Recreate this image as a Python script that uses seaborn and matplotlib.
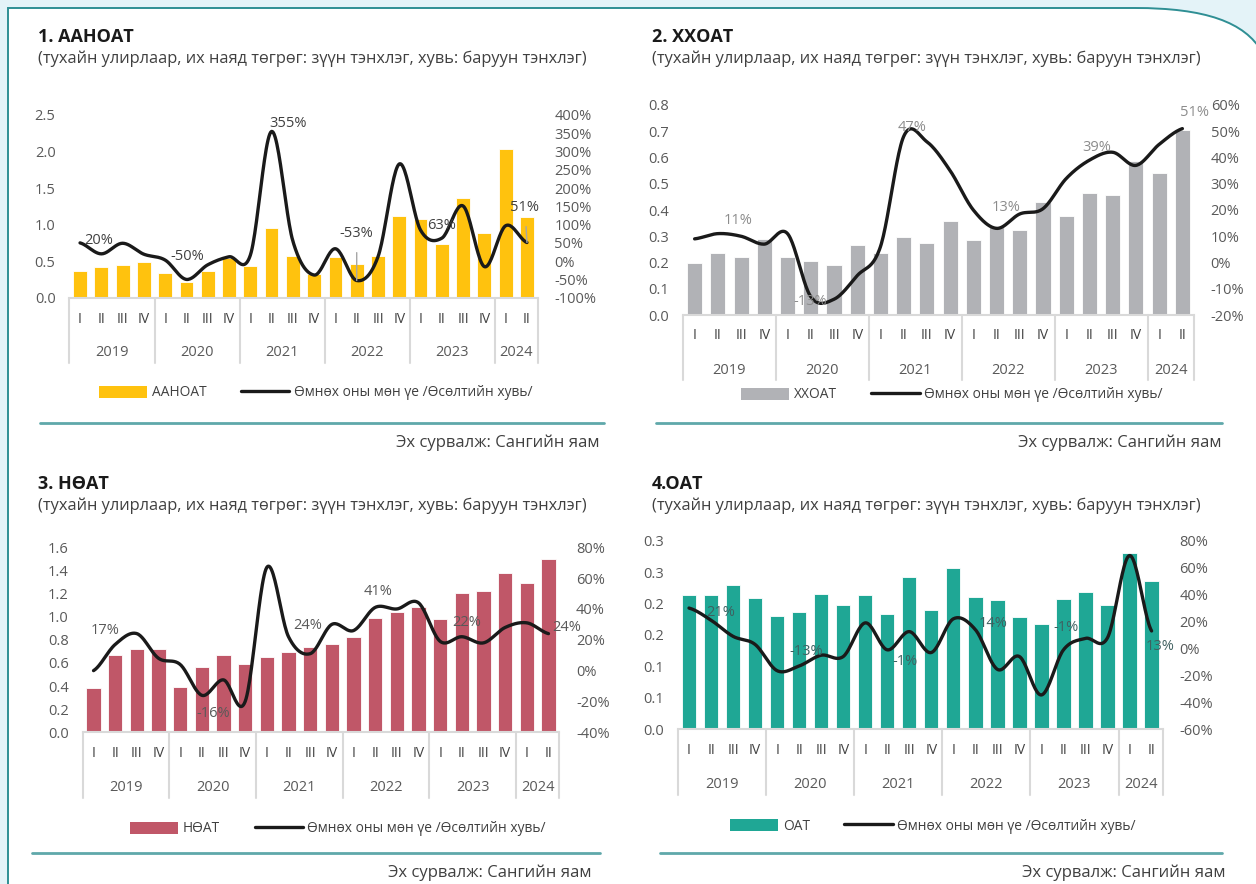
import numpy as np
import pandas as pd
import matplotlib
matplotlib.use("Agg")
import matplotlib.pyplot as plt
import matplotlib.transforms as mtransforms
from matplotlib.patches import Patch, PathPatch
from matplotlib.lines import Line2D
from matplotlib.path import Path
import seaborn as sns

# ---------------- data ----------------
years = ["2019", "2020", "2021", "2022", "2023", "2024"]
year_quarters = [4, 4, 4, 4, 4, 2]
quarters = ["I", "II", "III", "IV"] * 5 + ["I", "II"]
periods = [f"{y}-{q}" for y, n in zip(years, year_quarters) for q in ["I", "II", "III", "IV"][:n]]

aanoat = [0.36, 0.42, 0.45, 0.49, 0.34, 0.22, 0.37, 0.54, 0.44, 0.96, 0.57, 0.32,
          0.56, 0.46, 0.57, 1.12, 1.08, 0.73, 1.36, 0.89, 2.03, 1.10]
aanoat_g = [50, 20, 49, 19, 3, -50, -10, 12, 16, 355, 55, -38,
            34, -53, 12, 266, 85, 63, 151, -15, 97, 51]

xxoat = [0.200, 0.235, 0.222, 0.288, 0.220, 0.206, 0.190, 0.265, 0.236, 0.298, 0.274, 0.358,
         0.286, 0.336, 0.324, 0.430, 0.376, 0.466, 0.457, 0.587, 0.542, 0.703]
xxoat_g = [9, 11, 10, 7, 11, -13, -14, -5, 6, 48, 46, 35,
           20, 13, 18.5, 20.5, 32, 39, 42, 37, 45, 51]

noat = [0.383, 0.672, 0.720, 0.724, 0.395, 0.565, 0.669, 0.591, 0.654, 0.698, 0.738, 0.761,
        0.827, 0.986, 1.038, 1.084, 0.983, 1.205, 1.222, 1.378, 1.291, 1.496]
noat_g = [0, 17, 24, 8, 4, -16, -6, -20, 67, 22, 11, 30,
          26, 41, 40, 44, 19, 22, 18, 28, 31, 24]

oat = [0.214, 0.214, 0.229, 0.209, 0.180, 0.187, 0.216, 0.197, 0.213, 0.184, 0.242, 0.190,
       0.256, 0.210, 0.205, 0.178, 0.167, 0.208, 0.219, 0.198, 0.281, 0.236]
oat_g = [30, 21, 9, 3, -16.5, -13, -5, -6, 19, -1, 12.5, -3,
         22, 14, -15.5, -6, -34.5, -1, 7.5, 8, 69, 13]

# data labels shown on the line: (index, text)
aanoat_labels = [(1, "20%"), (5, "-50%"), (9, "355%"), (13, "-53%"), (17, "63%"), (21, "51%")]
xxoat_labels = [(2, "11%"), (5, "-13%"), (9, "47%"), (13, "13%"), (17, "39%"), (21, "51%")]
noat_labels = [(1, "17%"), (5, "-16%"), (10, "24%"), (13, "41%"), (17, "22%"), (21, "24%")]
oat_labels = [(1, "21%"), (5, "-13%"), (9, "-1%"), (13, "14%"), (17, "-1%"), (21, "13%")]

# axis ticks
aanoat_lticks = [0, 0.5, 1.0, 1.5, 2.0, 2.5]
aanoat_lticklabels = ["0.0", "0.5", "1.0", "1.5", "2.0", "2.5"]
aanoat_rticks = [-100, -50, 0, 50, 100, 150, 200, 250, 300, 350, 400]
xxoat_lticks = [0, 0.1, 0.2, 0.3, 0.4, 0.5, 0.6, 0.7, 0.8]
xxoat_lticklabels = ["0.0", "0.1", "0.2", "0.3", "0.4", "0.5", "0.6", "0.7", "0.8"]
xxoat_rticks = [-20, -10, 0, 10, 20, 30, 40, 50, 60]
noat_lticks = [0, 0.2, 0.4, 0.6, 0.8, 1.0, 1.2, 1.4, 1.6]
noat_lticklabels = ["0.0", "0.2", "0.4", "0.6", "0.8", "1.0", "1.2", "1.4", "1.6"]
noat_rticks = [-40, -20, 0, 20, 40, 60, 80]
oat_lticks = [0, 0.05, 0.10, 0.15, 0.20, 0.25, 0.30]
oat_lticklabels = ["0.0", "0.1", "0.1", "0.2", "0.2", "0.3", "0.3"]
oat_rticks = [-60, -40, -20, 0, 20, 40, 60, 80]

titles = ["1. ААНОАТ", "2. ХХОАТ", "3. НӨАТ", "4.ОАТ"]
subtitle = "(тухайн улирлаар, их наяд төгрөг: зүүн тэнхлэг, хувь: баруун тэнхлэг)"
bar_names = ["ААНОАТ", "ХХОАТ", "НӨАТ", "ОАТ"]
line_name = "Өмнөх оны мөн үе /Өсөлтийн хувь/"
source = "Эх сурвалж: Сангийн яам"

# ---------------- style ----------------
sns.set_style("white")
plt.rcParams["font.family"] = ["Open Sans", "Noto Sans", "DejaVu Sans"]

W, H = 1256, 884
fig = plt.figure(figsize=(W / 100, H / 100), dpi=100)
fig.patch.set_facecolor("#E4F3F8")

# page card (pixel coordinates)
bg = fig.add_axes([0, 0, 1, 1], zorder=-10)
bg.set_xlim(0, W)
bg.set_ylim(H, 0)
bg.axis("off")
card_verts = [(8, H + 5), (8, 8), (1135, 8), (1205, 8), (1245, 22), (1262, 52), (1262, H + 5), (8, H + 5)]
card_codes = [Path.MOVETO, Path.LINETO, Path.LINETO, Path.CURVE4, Path.CURVE4, Path.CURVE4, Path.LINETO, Path.CLOSEPOLY]
bg.add_patch(PathPatch(Path(card_verts, card_codes), facecolor="white", edgecolor="none"))
border_verts = [(8, H + 5), (8, 8), (1135, 8), (1205, 8), (1245, 22), (1262, 52)]
border_codes = [Path.MOVETO, Path.LINETO, Path.LINETO, Path.CURVE4, Path.CURVE4, Path.CURVE4]
bg.add_patch(PathPatch(Path(border_verts, border_codes), facecolor="none", edgecolor="#2F8F94", lw=1.4))


def smooth_curve(y, n=24):
    """Catmull-Rom smoothing of the line (like a spreadsheet's smoothed line)."""
    y = np.asarray(y, float)
    m = len(y)
    xs, ys = [], []
    for i in range(m - 1):
        p0 = y[i - 1] if i > 0 else y[i]
        p1, p2 = y[i], y[i + 1]
        p3 = y[i + 2] if i + 2 < m else y[i + 1]
        t = np.linspace(0, 1, n, endpoint=False)
        yy = 0.5 * ((2 * p1) + (-p0 + p2) * t + (2 * p0 - 5 * p1 + 4 * p2 - p3) * t ** 2
                    + (-p0 + 3 * p1 - 3 * p2 + p3) * t ** 3)
        xs.extend(i + t)
        ys.extend(yy)
    xs.append(m - 1)
    ys.append(y[-1])
    return np.array(xs), np.array(ys)


TICK = "#595959"


def panel(box, values, growth, labels, lticks, lticklabels, rticks, color, name,
          title_xy, legend_xy, rule, source_xy, label_offsets, label_color,
          cat_rows, leaders=()):
    x0, x1, yt, yb = box
    ax = fig.add_axes([x0 / W, 1 - yb / H, (x1 - x0) / W, (yb - yt) / H])
    ax.patch.set_alpha(0)
    df = pd.DataFrame({"period": periods, "value": values})
    sns.barplot(data=df, x="period", y="value", order=periods, color=color,
                width=0.65, saturation=1, ax=ax, edgecolor="white", linewidth=0.6)
    ax.set_ylim(lticks[0], lticks[-1])
    ax.set_yticks(lticks)
    ax.set_yticklabels(lticklabels)
    ax.set_xlabel("")
    ax.set_ylabel("")
    ax.set_xticks(range(len(periods)))
    ax.set_xticklabels([])
    ax.tick_params(axis="both", length=0, labelsize=10.5, labelcolor=TICK, pad=10)
    for s in ["left", "right", "top"]:
        ax.spines[s].set_visible(False)
    ax.spines["bottom"].set_color("#D9D9D9")
    ax.spines["bottom"].set_linewidth(1.5)

    ax2 = ax.twinx()
    xs, ys = smooth_curve(growth)
    sns.lineplot(x=xs, y=ys, ax=ax2, color="#1A1A1A", linewidth=2.4, sort=False,
                 estimator=None)
    ax2.set_ylim(rticks[0], rticks[-1])
    ax2.set_yticks(rticks)
    ax2.set_yticklabels([f"{t:.0f}%" for t in rticks])
    ax2.set_ylabel("")
    ax2.tick_params(axis="y", length=0, labelsize=10.5, labelcolor=TICK, pad=12)
    for s in ["left", "right", "top", "bottom"]:
        ax2.spines[s].set_visible(False)
    ax.set_xlim(-0.5, len(periods) - 0.5)

    # data labels
    for (idx, txt), (dx, dy) in zip(labels, label_offsets):
        kw = {}
        if idx in leaders:
            kw["arrowprops"] = dict(arrowstyle="-", color="#A6A6A6", lw=1.0,
                                    shrinkA=6, shrinkB=0)
        ax2.annotate(txt, xy=(idx, growth[idx]), xytext=(dx * 0.72, dy * 0.72),
                     textcoords="offset points", ha="center", va="center",
                     fontsize=10.5, color=label_color, **kw)

    # two-level category axis
    q_off, y_off, sep_len = cat_rows
    xt = ax.get_xaxis_transform()
    qtrans = mtransforms.offset_copy(xt, fig=fig, x=0, y=-q_off, units="dots")
    ytrans = mtransforms.offset_copy(xt, fig=fig, x=0, y=-y_off, units="dots")
    for i, q in enumerate(quarters):
        ax.text(i, 0, q, transform=qtrans, ha="center", va="center",
                fontsize=10, color="#404040")
    start = 0
    bounds = [-0.5]
    for yname, n in zip(years, year_quarters):
        ax.text(start + (n - 1) / 2, 0, yname, transform=ytrans, ha="center",
                va="center", fontsize=10.5, color=TICK)
        start += n
        bounds.append(start - 0.5)
    frac = sep_len / (yb - yt)
    for b in bounds:
        ax.add_line(Line2D([b, b], [0, -frac], transform=xt, color="#D9D9D9",
                           lw=1.5, clip_on=False))

    # titles
    tx, ty = title_xy
    bg.text(tx, ty, name[0], ha="left", va="center", fontsize=13,
            fontweight="bold", color="#1A1A1A")
    bg.text(tx, ty + 22, subtitle, ha="left", va="center", fontsize=11.8,
            color="#404040")

    # legend
    handles = [Patch(facecolor=color, edgecolor="none", label=name[1]),
               Line2D([0], [0], color="#1A1A1A", lw=2.4, label=line_name)]
    lx, ly = legend_xy
    ax.legend(handles=handles, loc="center", ncol=2, frameon=False,
              bbox_to_anchor=(lx / W, 1 - ly / H), bbox_transform=fig.transFigure,
              fontsize=9.9, handlelength=3.5, handleheight=0.95,
              handletextpad=0.35, columnspacing=2.5, labelcolor="#404040")

    # rule + source
    rx0, rx1, ry = rule
    bg.plot([rx0, rx1], [ry, ry], color="#5FA8AA", lw=2)
    sx, sy = source_xy
    bg.text(sx, sy, source, ha="right", va="center", fontsize=12, color="#404040")


panel((69.4, 537.6, 115, 297.7), aanoat, aanoat_g, aanoat_labels,
      aanoat_lticks, aanoat_lticklabels, aanoat_rticks, "#FFC20E",
      (titles[0], bar_names[0]), (38, 37), (316, 393), (40, 604, 423),
      (600, 443), [(-3, 13), (1, 23), (16, 8), (0, 47), (0, 13), (-2, 35)],
      "#404040", (22, 55, 65), leaders=(13, 21))

panel((683, 1194, 105, 315), xxoat, xxoat_g, xxoat_labels,
      xxoat_lticks, xxoat_lticklabels, xxoat_rticks, "#B1B2B6",
      (titles[1], bar_names[1]), (652, 37), (952, 395), (656, 1222, 423),
      (1222, 443), [(-3, 16), (-1, -5), (8, 9), (10, 21), (7, 13), (12, 16)],
      "#8C8C8C", (20, 55, 65))

panel((82.7, 559.3, 547.3, 732.3), noat, noat_g, noat_labels,
      noat_lticks, noat_lticklabels, noat_rticks, "#C05768",
      (titles[2], bar_names[2]), (38, 484), (338, 829), (32, 600, 853),
      (592, 873), [(-10, 14), (11, -18), (-2, 28), (3, 16), (5, 14), (18, 6)],
      "#595959", (21, 55, 66))

panel((678, 1162.6, 540.7, 729.3), oat, oat_g, oat_labels,
      oat_lticks, oat_lticklabels, oat_rticks, "#1FA795",
      (titles[3], bar_names[3]), (652, 484), (933, 826), (660, 1222, 853),
      (1225, 873), [(10, 8), (7, 14), (18, -12), (18, 6), (3, 22), (9, -16)],
      "#3F6060", (21, 55, 66))

fig.savefig("out.png", dpi=100)
